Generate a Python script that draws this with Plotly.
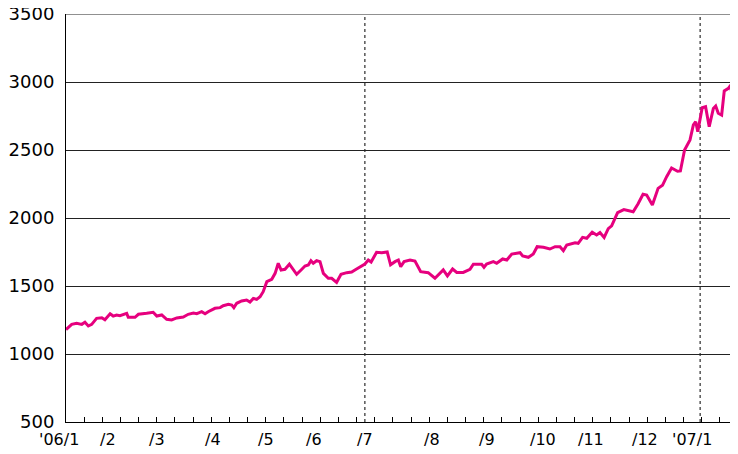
import plotly.graph_objects as go

# Trading-day index (x) and index level (y)
day_index = [0, 2.2, 4.1, 6.1, 7.3, 8.6, 9.9, 11.8, 13.8, 15.0, 17.0, 18.2, 19.5, 20.8,
             23.4, 24.0, 26.6, 27.9, 31.1, 33.6, 35.0, 36.9, 38.8, 40.7, 42.7, 45.2,
             47.1, 49.1, 50.4, 52.3, 53.6, 54.8, 57.4, 59.4, 60.6, 62.6, 63.9, 64.7,
             65.8, 67.7, 69.6, 70.9, 72.2, 73.5, 74.8, 76.0, 77.4, 79.3, 80.6, 81.8,
             82.9, 84.4, 86.1, 87.6, 88.9, 90.6, 92.1, 93.4, 94.4, 95.3, 96.6, 97.9,
             99.2, 101.1, 102.4, 104.3, 106.0, 108.2, 110.1, 112.0, 114.0, 115.2,
             116.5, 117.6, 119.7, 121.7, 123.8, 125.1, 126.8, 128.1, 129.0, 130.3,
             132.6, 134.5, 136.7, 139.6, 142.2, 145.4, 147.0, 149.0, 150.6, 153.1,
             155.7, 157.0, 160.2, 161.1, 162.1, 164.7, 166.0, 168.3, 169.9, 171.8,
             175.0, 176.0, 178.2, 180.1, 181.6, 184.0, 186.5, 188.5, 190.4, 191.7,
             193.0, 194.9, 196.2, 197.4, 199.1, 200.7, 202.8, 204.5, 205.8, 207.4,
             209.0, 210.3, 212.6, 215.0, 217.4, 218.6, 220.5, 222.4, 223.8, 226.0,
             228.2, 229.9, 231.5, 233.4, 235.7, 236.8, 238.4, 240.5, 241.8, 242.7,
             243.5, 244.4, 245.2, 246.5, 247.9, 249.5, 250.4, 251.4, 252.7, 253.7,
             255.3, 256.2, 256.9, 257.8, 259.0]
index_level = [1180, 1218, 1226, 1218, 1233, 1206, 1218, 1262, 1267, 1252, 1296, 1279, 1287, 1282,
               1299, 1270, 1270, 1292, 1299, 1307, 1279, 1287, 1255, 1250, 1265, 1272,
               1292, 1301, 1296, 1311, 1296, 1311, 1336, 1341, 1355, 1365, 1360, 1341,
               1373, 1390, 1397, 1382, 1409, 1402, 1421, 1458, 1532, 1549, 1593, 1667,
               1618, 1623, 1660, 1618, 1586, 1618, 1647, 1654, 1686, 1667, 1686, 1679,
               1593, 1557, 1557, 1527, 1586, 1598, 1603, 1625, 1647, 1662,
               1691, 1676, 1748, 1745, 1750, 1656, 1679, 1691, 1642, 1679,
               1691, 1684, 1605, 1598, 1557, 1618, 1574, 1625, 1600, 1600,
               1623, 1660, 1660, 1638, 1662, 1679, 1667, 1699, 1691, 1735,
               1745, 1721, 1711, 1735, 1789, 1785, 1772, 1789, 1789, 1760,
               1801, 1810, 1818, 1814, 1858, 1851, 1895, 1875, 1893, 1857,
               1922, 1942, 2040, 2062, 2051, 2046, 2105, 2175, 2169, 2096,
               2218, 2240, 2304, 2368, 2344, 2346, 2500, 2574, 2684, 2708,
               2635, 2733, 2811, 2818, 2671, 2806, 2824, 2770, 2757, 2934,
               2953, 2978, 2855, 2875, 2920]

# Month tick labels and their positions on the trading-day axis
month_labels = ["'06/1", "/2", "/3", "/4", "/5", "/6", "/7", "/8", "/9", "/10", "/11", "/12", "'07/1"]
month_pos = [-2.7, 16.2, 35.1, 56.7, 77.1, 95.6, 115.2, 141.1, 162.3, 183.8, 202.3, 223.2, 241.3]

# Year-half boundaries marked by dotted lines
boundary_pos = [115.2, 244.4]

y_ticks = [500, 1000, 1500, 2000, 2500, 3000, 3500]
X_MAX = 259

FONT = "DejaVu Sans"
ML, MR, MT, MB = 58, 8, 6, 40
PLOT_W = 738 - ML - MR
PX_PER_UNIT = PLOT_W / X_MAX

fig = go.Figure()
fig.add_trace(go.Scatter(
    x=day_index, y=index_level, mode="lines",
    line=dict(color="#E6007E", width=3),
    hoverinfo="skip", showlegend=False, cliponaxis=False,
))

for b in boundary_pos:
    fig.add_shape(type="line", xref="x", yref="paper", x0=b, x1=b, y0=0, y1=1,
                  line=dict(color="black", width=1, dash="dot"), layer="below")

# top frame line at 3500
fig.add_shape(type="line", xref="paper", yref="y", x0=0, x1=1, y0=y_ticks[-1], y1=y_ticks[-1],
              line=dict(color="#222", width=1), layer="below")

for lab, pos in zip(month_labels, month_pos):
    xa = min(max(pos, 0), X_MAX)
    fig.add_annotation(x=xa, y=0, xref="x", yref="paper", text=lab, showarrow=False,
                       xanchor="center", yanchor="middle", yshift=-17,
                       xshift=(pos - xa) * PX_PER_UNIT,
                       font=dict(family=FONT, size=16, color="black"))

fig.update_layout(
    width=738, height=454,
    margin=dict(l=ML, r=MR, t=MT, b=MB, autoexpand=False),
    paper_bgcolor="white", plot_bgcolor="white",
    xaxis=dict(range=[0, X_MAX], showgrid=False, zeroline=False, automargin=False,
               showline=True, linecolor="black", linewidth=1,
               tickmode="linear", tick0=0, dtick=7, ticks="inside", ticklen=5,
               tickcolor="black", tickwidth=1, showticklabels=False),
    yaxis=dict(range=[500, 3500], tickvals=y_ticks, showgrid=True, gridcolor="#222",
               gridwidth=1, zeroline=False, showline=True, linecolor="black", linewidth=1,
               ticks="", ticklabelstandoff=7, automargin=False, ticklabeloverflow="allow",
               tickfont=dict(family=FONT, size=18, color="black")),
)

fig.write_html("out.html")
